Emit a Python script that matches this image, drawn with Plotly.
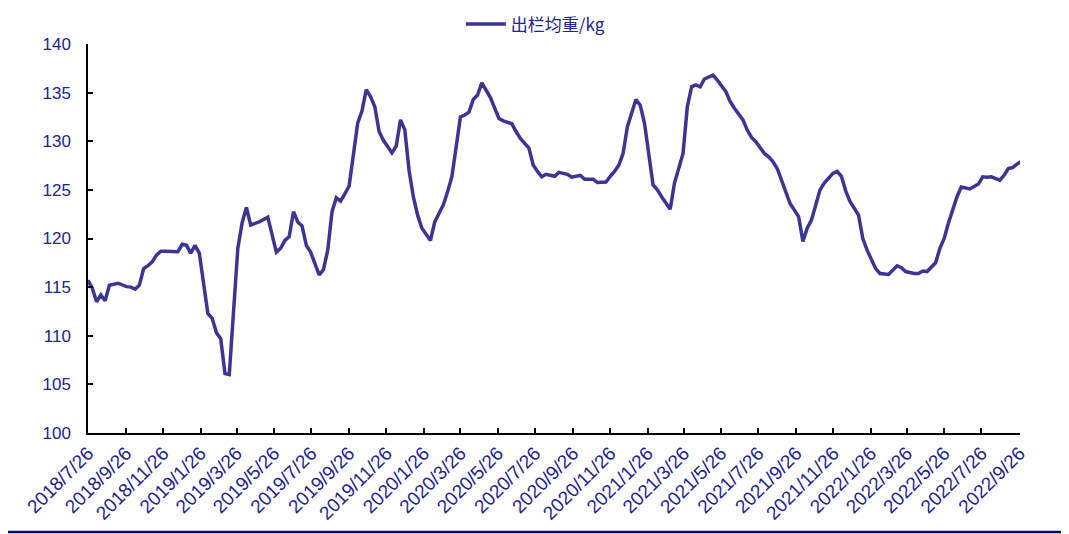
import numpy as np
import pandas as pd
import plotly.graph_objects as go

# week offsets from 2018/7/26 (weekly data) and average slaughter weight (kg)
start_date = "2018-07-26"
weeks = [0, 1, 2, 3, 4, 5, 7, 9, 10, 11, 12, 13, 14, 15, 16, 17, 18, 21, 22, 23,
         24, 25, 26, 28, 29, 30, 31, 32, 33, 35, 36, 37, 38, 40, 42, 44, 45, 46, 47, 48,
         49, 50, 51, 52, 54, 55, 56, 57, 58, 59, 60, 61, 63, 64, 65, 66, 67, 68, 69, 70,
         71, 72, 73, 74, 75, 76, 77, 78, 80, 81, 82, 83, 84, 85, 86, 87, 88, 89, 90, 91,
         92, 93, 94, 95, 96, 97, 99, 100, 101, 103, 104, 105, 106, 107, 109, 110, 112, 113, 115, 116,
         118, 119, 121, 122, 123, 124, 125, 126, 128, 129, 130, 132, 133, 134, 136, 137, 139, 140, 141, 142,
         143, 144, 146, 147, 149, 150, 151, 153, 154, 155, 156, 158, 159, 160, 161, 162, 163, 164, 166, 167,
         168, 169, 170, 171, 172, 174, 175, 176, 177, 178, 180, 181, 182, 183, 184, 185, 187, 189, 190, 191,
         193, 194, 195, 196, 197, 198, 199, 200, 201, 202, 203, 204, 205, 206, 208, 209, 210, 211, 213, 214,
         215, 216, 217, 218]
weight = [115.7, 114.9, 113.5, 114.2, 113.6, 115.2, 115.4, 115.05, 115.0, 114.8, 115.2, 116.9, 117.2, 117.6, 118.3, 118.7, 118.7, 118.65, 119.4, 119.3,
          118.5, 119.3, 118.5, 112.3, 111.8, 110.3, 109.7, 106.1, 106.0, 119.0, 121.6, 123.2, 121.4, 121.7, 122.2, 118.6, 119.0, 119.8, 120.2, 122.75,
          121.7, 121.3, 119.3, 118.6, 116.25, 116.8, 118.8, 122.75, 124.2, 123.85, 124.6, 125.4, 131.85, 133.1, 135.3, 134.6, 133.55, 131.0, 130.1, 129.5,
          128.8, 129.5, 132.2, 131.2, 127.0, 124.3, 122.4, 121.05, 119.8, 121.7, 122.6, 123.45, 124.8, 126.35, 129.4, 132.5, 132.7, 133.0, 134.3, 134.75,
          136.0, 135.3, 134.5, 133.4, 132.35, 132.1, 131.8, 131.0, 130.3, 129.3, 127.55, 126.9, 126.35, 126.6, 126.4, 126.8, 126.6, 126.3, 126.5, 126.1,
          126.1, 125.75, 125.8, 126.4, 126.9, 127.55, 128.75, 131.5, 134.3, 133.7, 131.85, 125.5, 125.0, 124.3, 123.0, 125.7, 128.75, 133.55, 135.6, 135.8,
          135.6, 136.4, 136.8, 136.3, 135.1, 134.1, 133.4, 132.2, 131.15, 130.4, 129.95, 128.75, 128.4, 127.9, 127.2, 126.0, 124.8, 123.6, 122.25, 119.7,
          121.05, 121.9, 123.45, 125.0, 125.7, 126.7, 126.9, 126.4, 124.9, 123.8, 122.4, 120.0, 118.8, 117.8, 116.9, 116.4, 116.3, 117.2, 117.0, 116.6,
          116.4, 116.4, 116.65, 116.6, 117.0, 117.5, 119.0, 120.0, 121.6, 122.9, 124.3, 125.3, 125.2, 125.1, 125.6, 126.35, 126.3, 126.35, 126.0, 126.5,
          127.2, 127.3, 127.65, 127.9]

tick_labels = ["2018/7/26", "2018/9/26", "2018/11/26", "2019/1/26", "2019/3/26", "2019/5/26",
               "2019/7/26", "2019/9/26", "2019/11/26", "2020/1/26", "2020/3/26", "2020/5/26",
               "2020/7/26", "2020/9/26", "2020/11/26", "2021/1/26", "2021/3/26", "2021/5/26",
               "2021/7/26", "2021/9/26", "2021/11/26", "2022/1/26", "2022/3/26", "2022/5/26",
               "2022/7/26", "2022/9/26"]
y_ticks = [100, 105, 110, 115, 120, 125, 130, 135, 140]
series_name = "出栏均重/kg"

dates = pd.Timestamp(start_date) + pd.to_timedelta(np.array(weeks) * 7, unit="D")
tick_vals = pd.to_datetime(tick_labels, format="%Y/%m/%d")

LINE = "#3D3594"
TXT = "#23238A"

fig = go.Figure()
fig.add_trace(go.Scatter(x=dates, y=weight, mode="lines", name=series_name,
                         line=dict(color=LINE, width=3.5), showlegend=True))

# the page adds an 8px body margin, so the figure is sized/offset to compensate
fig.update_layout(
    width=1061, height=526,
    margin=dict(l=80, r=49, t=36, b=101, autoexpand=False),
    paper_bgcolor="white", plot_bgcolor="white",
    showlegend=True,
    legend=dict(orientation="h", x=0.48, xanchor="center", y=1.05, yanchor="middle",
                font=dict(family="Noto Sans CJK SC", size=17, color=TXT),
                bgcolor="rgba(0,0,0,0)", itemwidth=40, borderwidth=0),
    font=dict(family="Liberation Sans, Arial, sans-serif", color=TXT),
)
fig.update_xaxes(
    type="date", range=[pd.Timestamp("2018-07-26"), pd.Timestamp("2022-09-27")],
    tickmode="array", tickvals=tick_vals, ticktext=tick_labels, tickangle=-45,
    ticks="inside", ticklen=5, tickwidth=1.5, tickcolor="black", automargin=False,
    showline=True, linecolor="black", linewidth=1.5, showgrid=False, zeroline=False,
    tickfont=dict(family="Liberation Sans, Arial, sans-serif", size=19, color=TXT),
)
fig.update_yaxes(
    range=[100, 140], tickmode="array", tickvals=y_ticks,
    ticks="inside", ticklen=5, tickwidth=1.5, tickcolor="black", automargin=False,
    showline=True, linecolor="black", linewidth=1.5, showgrid=False, zeroline=False,
    ticklabelstandoff=12,
    tickfont=dict(family="Liberation Sans, Arial, sans-serif", size=17, color=TXT),
)
# thin navy rule at the very bottom of the picture
fig.add_shape(type="line", xref="paper", yref="paper", x0=-0.1, x1=1.1, y0=-0.2545, y1=-0.2545,
              line=dict(color="#0A0A6E", width=2.5))

fig.write_html("out.html")
